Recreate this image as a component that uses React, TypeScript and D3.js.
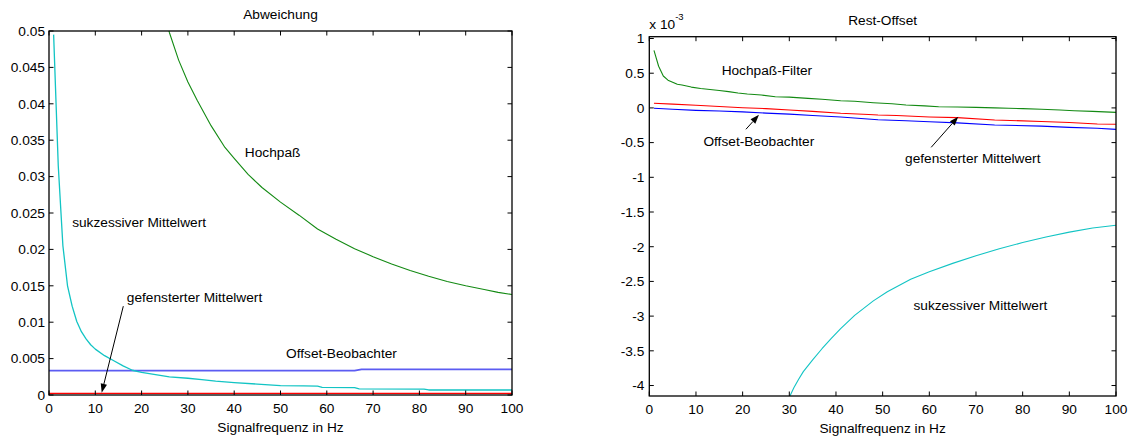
import React from "react";
import * as d3 from "d3";

// ---- Abweichung (left panel) ----
const freqSukzL = [1, 2, 3, 4, 5, 6, 7, 8, 9, 10, 12, 14, 16, 18, 20, 23, 26, 30, 33, 36, 40, 45, 50, 55, 58, 59, 66, 67, 81, 82, 100];
const sukzL = [0.0495, 0.0315, 0.0205, 0.015, 0.0122, 0.0101, 0.0087, 0.0077, 0.0069, 0.0063, 0.0054, 0.0047, 0.004, 0.0034, 0.0031, 0.0028, 0.0025, 0.0023, 0.0021, 0.0019, 0.0017, 0.0015, 0.0013, 0.00125, 0.00122, 0.00105, 0.00102, 0.00083, 0.0008, 0.00069, 0.00069];

const freqHochL = [20, 24, 26, 28, 30, 32, 35, 38, 40, 43, 46, 50, 54, 58, 62, 66, 70, 74, 78, 82, 86, 90, 94, 97, 100];
const hochL = [0.066, 0.0545, 0.0498, 0.046, 0.043, 0.0405, 0.037, 0.034, 0.0325, 0.0303, 0.0285, 0.0265, 0.0247, 0.0228, 0.0214, 0.0201, 0.019, 0.018, 0.0171, 0.0163, 0.0156, 0.015, 0.0145, 0.0141, 0.0138];

const freqBeobL = [0, 66, 67.5, 100];
const beobL = [0.00334, 0.00334, 0.00353, 0.00353];

const freqFensL = [0, 100];
const fensL = [0.00023, 0.00023];

// ---- Rest-Offset (right panel) ----
const freqHochR = [1, 2, 3, 4, 5, 6, 7, 9, 11, 13, 15, 17, 19, 21, 24, 27, 30, 34, 37, 41, 44, 48, 52, 55, 59, 62, 66, 70, 74, 77, 80, 84, 88, 91, 95, 100];
const hochR = [0.83e-3, 0.6e-3, 0.46e-3, 0.4e-3, 0.37e-3, 0.34e-3, 0.33e-3, 0.3e-3, 0.28e-3, 0.265e-3, 0.25e-3, 0.235e-3, 0.215e-3, 0.2e-3, 0.185e-3, 0.16e-3, 0.155e-3, 0.138e-3, 0.125e-3, 0.104e-3, 0.095e-3, 0.075e-3, 0.06e-3, 0.042e-3, 0.03e-3, 0.017e-3, 0.012e-3, 0.008e-3, 0.0, -0.006e-3, -0.01e-3, -0.02e-3, -0.03e-3, -0.04e-3, -0.05e-3, -0.065e-3];

const freqFensR = [1, 5, 10, 15, 20, 25, 30, 35, 41, 47, 49, 53, 60, 66, 74, 84, 90, 96, 100];
const fensR = [0.068e-3, 0.055e-3, 0.038e-3, 0.02e-3, 0.003e-3, -0.01e-3, -0.03e-3, -0.05e-3, -0.078e-3, -0.095e-3, -0.102e-3, -0.11e-3, -0.13e-3, -0.14e-3, -0.174e-3, -0.195e-3, -0.21e-3, -0.232e-3, -0.236e-3];

const freqBeobR = [1, 5, 10, 15, 20, 25, 30, 35, 41, 49, 55, 60, 66, 74, 84, 90, 96, 100];
const beobR = [-0.005e-3, -0.02e-3, -0.035e-3, -0.045e-3, -0.057e-3, -0.075e-3, -0.09e-3, -0.11e-3, -0.13e-3, -0.17e-3, -0.185e-3, -0.2e-3, -0.215e-3, -0.246e-3, -0.262e-3, -0.28e-3, -0.294e-3, -0.309e-3];

const freqSukzR = [29, 30, 31, 32, 33, 35, 37, 39, 41, 44, 48, 51, 56, 60, 65, 70, 75, 80, 85, 90, 95, 100];
const sukzR = [-4.33e-3, -4.17e-3, -4.03e-3, -3.91e-3, -3.8e-3, -3.63e-3, -3.47e-3, -3.32e-3, -3.18e-3, -2.99e-3, -2.78e-3, -2.65e-3, -2.47e-3, -2.36e-3, -2.24e-3, -2.13e-3, -2.03e-3, -1.94e-3, -1.86e-3, -1.79e-3, -1.73e-3, -1.69e-3];

// ---- ticks ----
const xTicks = [0, 10, 20, 30, 40, 50, 60, 70, 80, 90, 100];
const yTicksL = [0, 0.005, 0.01, 0.015, 0.02, 0.025, 0.03, 0.035, 0.04, 0.045, 0.05];
const yTicksR = [-4, -3.5, -3, -2.5, -2, -1.5, -1, -0.5, 0, 0.5, 1];

const FONT = "'Liberation Sans', Arial, Helvetica, sans-serif";
const FS = 13.7;
const TICK = 4.5;

type Series = { f: number[]; v: number[]; color: string; width: number };

function zip(f: number[], v: number[]): [number, number][] {
  return f.map((x, i) => [x, v[i]]);
}

function Arrow({ x1, y1, x2, y2 }: { x1: number; y1: number; x2: number; y2: number }) {
  const ang = Math.atan2(y2 - y1, x2 - x1);
  const len = 9;
  const half = 3.2;
  const bx = x2 - len * Math.cos(ang);
  const by = y2 - len * Math.sin(ang);
  const px = -Math.sin(ang) * half;
  const py = Math.cos(ang) * half;
  return (
    <g>
      <line x1={x1} y1={y1} x2={bx} y2={by} stroke="#000" strokeWidth={1} />
      <path d={`M${x2},${y2}L${bx + px},${by + py}L${bx - px},${by - py}Z`} fill="#000" />
    </g>
  );
}

function Panel(props: {
  id: string;
  x: d3.ScaleLinear<number, number>;
  y: d3.ScaleLinear<number, number>;
  yTicks: number[];
  yTickValue: (t: number) => number;
  yLabelGap: number;
  title: string;
  series: Series[];
  children?: React.ReactNode;
}) {
  const { id, x, y, yTicks, yTickValue, yLabelGap, title, series, children } = props;
  const [x0, x1] = x.range();
  const [y1, y0] = y.range();
  const cx = (x0 + x1) / 2;
  const line = d3
    .line<[number, number]>()
    .x((d) => x(d[0]))
    .y((d) => y(d[1]));
  return (
    <g>
      <defs>
        <clipPath id={id}>
          <rect x={x0} y={y0} width={x1 - x0} height={y1 - y0} />
        </clipPath>
      </defs>
      <rect x={x0} y={y0} width={x1 - x0} height={y1 - y0} fill="#fff" />
      <g clipPath={`url(#${id})`}>
        {series.map((s, i) => (
          <path key={i} d={line(zip(s.f, s.v)) || ""} fill="none" stroke={s.color} strokeWidth={s.width} strokeLinejoin="round" />
        ))}
      </g>
      {/* box */}
      <rect x={x0} y={y0} width={x1 - x0} height={y1 - y0} fill="none" stroke="#000" strokeWidth={1.3} />
      {/* x ticks */}
      {xTicks.map((t) => (
        <g key={`x${t}`}>
          <line x1={x(t)} x2={x(t)} y1={y1} y2={y1 - TICK} stroke="#000" strokeWidth={1} />
          <line x1={x(t)} x2={x(t)} y1={y0} y2={y0 + TICK} stroke="#000" strokeWidth={1} />
          <text x={x(t)} y={y1 + 18.3} textAnchor="middle" fontFamily={FONT} fontSize={FS} fill="#000">
            {t}
          </text>
        </g>
      ))}
      {/* y ticks */}
      {yTicks.map((t) => {
        const yy = y(yTickValue(t));
        return (
          <g key={`y${t}`}>
            <line x1={x0} x2={x0 + TICK} y1={yy} y2={yy} stroke="#000" strokeWidth={1} />
            <line x1={x1} x2={x1 - TICK} y1={yy} y2={yy} stroke="#000" strokeWidth={1} />
            <text x={x0 - yLabelGap} y={yy + 4.8} textAnchor="end" fontFamily={FONT} fontSize={FS} fill="#000">
              {String(t)}
            </text>
          </g>
        );
      })}
      <text x={cx} y={y0 - 12} textAnchor="middle" fontFamily={FONT} fontSize={FS} fill="#000">
        {title}
      </text>
      <text x={cx} y={y1 + 36.5} textAnchor="middle" fontFamily={FONT} fontSize={FS} fill="#000">
        Signalfrequenz in Hz
      </text>
      {children}
    </g>
  );
}

export default function App() {
  const xL = d3.scaleLinear().domain([0, 100]).range([49, 512]);
  const yL = d3.scaleLinear().domain([0, 0.05]).range([395, 31]);
  const xR = d3.scaleLinear().domain([0, 100]).range([649.3, 1116]);
  const yR = d3.scaleLinear().domain([-4.151e-3, 1.026e-3]).range([396, 36.7]);

  const cyan = "#12c4c4";
  const green = "#138a13";
  const red = "#ff0000";

  const seriesL: Series[] = [
    { f: freqFensL, v: fensL, color: red, width: 1.2 },
    { f: freqBeobL, v: beobL, color: "#5c5cf2", width: 1.8 },
    { f: freqSukzL, v: sukzL, color: cyan, width: 1.3 },
    { f: freqHochL, v: hochL, color: green, width: 1.1 },
  ];
  const seriesR: Series[] = [
    { f: freqHochR, v: hochR, color: green, width: 1.1 },
    { f: freqFensR, v: fensR, color: red, width: 1.1 },
    { f: freqBeobR, v: beobR, color: "#0000ff", width: 1.1 },
    { f: freqSukzR, v: sukzR, color: cyan, width: 1.1 },
  ];

  const txt = (x: number, y: number, s: string) => (
    <text x={x} y={y} fontFamily={FONT} fontSize={FS} fill="#000">
      {s}
    </text>
  );

  return (
    <svg width={1133} height={437} style={{ position: "absolute", left: 0, top: 0, background: "#fff" }}>
      <rect width={1133} height={437} fill="#fff" />
      <Panel id="clipL" x={xL} y={yL} yTicks={yTicksL} yTickValue={(t) => t} yLabelGap={4} title="Abweichung" series={seriesL}>
        {txt(xL(42.3), yL(0.0327), "Hochpaß")}
        {txt(xL(5.0), yL(0.0231), "sukzessiver Mittelwert")}
        {txt(xL(16.8), yL(0.0128), "gefensterter Mittelwert")}
        {txt(xL(51.2), yL(0.0051), "Offset-Beobachter")}
        <Arrow x1={xL(16.05)} y1={yL(0.0122)} x2={xL(11.38)} y2={yL(0.0003)} />
      </Panel>
      <Panel id="clipR" x={xR} y={yR} yTicks={yTicksR} yTickValue={(t) => t * 1e-3} yLabelGap={5} title="Rest-Offset" series={seriesR}>
        {txt(xR(15.5), yR(0.467e-3), "Hochpaß-Filter")}
        {txt(xR(11.6), yR(-0.549e-3), "Offset-Beobachter")}
        {txt(xR(54.8), yR(-0.787e-3), "gefensterter Mittelwert")}
        {txt(xR(56.6), yR(-2.912e-3), "sukzessiver Mittelwert")}
        <Arrow x1={xR(20.7)} y1={yR(-0.308e-3)} x2={xR(23.5)} y2={yR(-0.1e-3)} />
        <Arrow x1={xR(60.4)} y1={yR(-0.568e-3)} x2={xR(66.2)} y2={yR(-0.127e-3)} />
        <text x={xR(0)} y={29.3} fontFamily={FONT} fontSize={FS} fill="#000">
          x 10
          <tspan fontSize={9.5} dy={-9.5}>-3</tspan>
        </text>
      </Panel>
    </svg>
  );
}
